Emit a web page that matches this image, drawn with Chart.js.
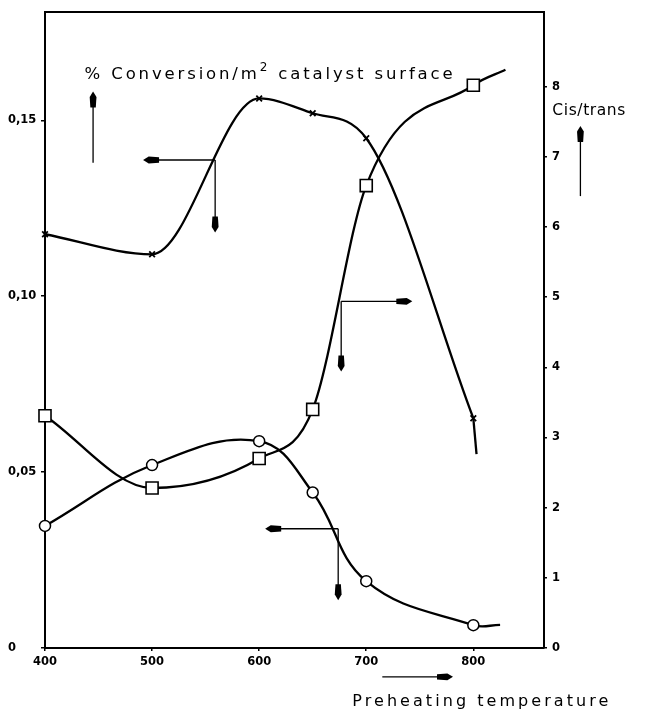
<!DOCTYPE html>
<html>
<head>
<meta charset="utf-8">
<script src="https://cdn.jsdelivr.net/npm/chart.js@4/dist/chart.umd.min.js"></script>
<style>
html,body{margin:0;padding:0;background:#fff;}
#wrap{width:653px;height:711px;position:relative;}
</style>
</head>
<body>
<div id="wrap"><canvas id="c" width="653" height="711"></canvas></div>
<script>
// ---- data ----
const xTickLabels = [400, 500, 600, 700, 800];
const leftTicks = [0, 0.05, 0.10, 0.15];
const rightTicks = [0, 1, 2, 3, 4, 5, 6, 7, 8];

// crosses: % conversion / m2 catalyst surface (left axis)
const crossX = [400, 500, 600, 650, 700, 800];
const crossY = [0.1176, 0.1119, 0.1562, 0.1520, 0.1449, 0.0653];
// unmarked tail of the crosses curve below the 800 point
const crossTailX = [800, 803];
const crossTailY = [0.0653, 0.0551];
// circles: % conversion / m2 catalyst surface (left axis)
const circX = [400, 500, 600, 650, 700, 800, 825];
const circY = [0.0347, 0.0520, 0.0588, 0.0442, 0.0190, 0.0065, 0.0066];
const circMarked = [1, 1, 1, 1, 1, 1, 0];
// squares: cis/trans ratio (right axis)
const sqX = [400, 500, 600, 650, 700, 800, 830];
const sqY = [3.31, 2.28, 2.70, 3.40, 6.59, 8.02, 8.24];
const sqMarked = [1, 1, 1, 1, 1, 1, 0];

// axis ranges
const xMin = 400, xMax = 866;
const leftMax = 0.1808, rightMax = 9.065;

// annotation arrows in data coordinates: [xFrom, yFrom, xTo, yTo, yAxis]
const arrows = [
  [558.9, 0.1387, 491.6, 0.1387, 'y'],
  [558.9, 0.1387, 558.9, 0.1181, 'y'],
  [676.6, 4.94, 743.0, 4.94, 'y1'],
  [676.6, 4.94, 676.6, 3.94, 'y1'],
  [673.8, 0.0339, 605.6, 0.0339, 'y'],
  [673.8, 0.0339, 673.8, 0.0136, 'y'],
  [444.9, 0.1379, 444.9, 0.1582, 'y'],
  [900.0, 6.44, 900.0, 7.44, 'y1'],
  [715.0, -0.0082, 781.0, -0.0082, 'y']
];

function zip(xs, ys){ return xs.map((x,i)=>({x:x, y:ys[i]})); }

const FONT = '"DejaVu Sans", sans-serif';

const whiteBg = {
  id:'whiteBg',
  beforeDraw(chart){
    const ctx = chart.ctx;
    ctx.save(); ctx.fillStyle = '#fff';
    ctx.fillRect(0,0,chart.width,chart.height); ctx.restore();
  }
};

function drawArrow(ctx, x0, y0, x1, y1){
  const dx = x1-x0, dy = y1-y0;
  const len = Math.hypot(dx,dy);
  const ux = dx/len, uy = dy/len;
  const px = -uy, py = ux;
  const headL = 16, hw = 3.4;
  ctx.beginPath();
  ctx.moveTo(x0,y0);
  ctx.lineTo(x1 - ux*headL*0.5, y1 - uy*headL*0.5);
  ctx.lineWidth = 1.3; ctx.strokeStyle = '#000'; ctx.stroke();
  const bx = x1 - ux*headL, by = y1 - uy*headL;
  ctx.beginPath();
  ctx.moveTo(x1, y1);
  ctx.lineTo(x1 - ux*headL*0.35 + px*hw, y1 - uy*headL*0.35 + py*hw);
  ctx.lineTo(bx + px*hw*0.8, by + py*hw*0.8);
  ctx.lineTo(bx - px*hw*0.8, by - py*hw*0.8);
  ctx.lineTo(x1 - ux*headL*0.35 - px*hw, y1 - uy*headL*0.35 - py*hw);
  ctx.closePath();
  ctx.fillStyle = '#000'; ctx.fill();
}

function fitText(ctx, str, x, yMid, width, size, weight){
  ctx.font = (weight||'normal') + ' ' + size + 'px ' + FONT;
  ctx.letterSpacing = '0px';
  const w = ctx.measureText(str).width;
  const sp = Math.max(0, (width - w) / (str.length - 1));
  ctx.letterSpacing = sp + 'px';
  ctx.textBaseline = 'middle'; ctx.textAlign = 'left';
  ctx.fillText(str, x, yMid);
  ctx.letterSpacing = '0px';
}

const deco = {
  id:'deco',
  afterDraw(chart){
    const ctx = chart.ctx;
    const sx = chart.scales.x, yl = chart.scales.y, yr = chart.scales.y1;
    const a = chart.chartArea;
    ctx.save();
    // top frame line
    ctx.beginPath(); ctx.moveTo(a.left, a.top); ctx.lineTo(a.right, a.top);
    ctx.lineWidth = 2; ctx.strokeStyle = '#000'; ctx.stroke();
    // arrows
    arrows.forEach(ar => {
      const ys = ar[4] === 'y1' ? yr : yl;
      drawArrow(ctx, sx.getPixelForValue(ar[0]), ys.getPixelForValue(ar[1]),
                     sx.getPixelForValue(ar[2]), ys.getPixelForValue(ar[3]));
    });
    ctx.fillStyle = '#000';
    // title text with superscript, spread to the reference width
    const tx = sx.getPixelForValue(437), ty = yl.getPixelForValue(0.1630);
    const p1 = '% Conversion/m', p3 = ' catalyst surface';
    const bigSize = 16.5, supSize = 12;
    ctx.letterSpacing = '0px';
    ctx.font = bigSize + 'px ' + FONT;
    const w1 = ctx.measureText(p1).width, w3 = ctx.measureText(p3).width;
    ctx.font = supSize + 'px ' + FONT;
    const w2 = ctx.measureText('2').width;
    const nChars = p1.length + 1 + p3.length;
    const sp = (368 - (w1 + w2 + w3)) / (nChars - 1);
    ctx.letterSpacing = sp + 'px';
    ctx.textBaseline = 'middle'; ctx.textAlign = 'left';
    ctx.font = bigSize + 'px ' + FONT;
    ctx.fillText(p1, tx, ty);
    let cx = tx + ctx.measureText(p1).width;
    ctx.font = supSize + 'px ' + FONT;
    ctx.fillText('2', cx, ty - 7);
    cx += ctx.measureText('2').width;
    ctx.font = bigSize + 'px ' + FONT;
    ctx.fillText(p3, cx, ty);
    ctx.letterSpacing = '0px';
    // right axis title
    fitText(ctx, 'Cis/trans', sx.getPixelForValue(873.8), yr.getPixelForValue(7.66), 73, 15.5);
    // x axis title
    fitText(ctx, 'Preheating temperature', sx.getPixelForValue(687), yl.getPixelForValue(-0.01525), 256, 16);
    ctx.restore();
  }
};

const ctx = document.getElementById('c').getContext('2d');
new Chart(ctx, {
  type:'line',
  data:{
    datasets:[
      {
        label:'conversion (x)', data: zip(crossX, crossY), yAxisID:'y',
        borderColor:'#000', borderWidth:2.3, cubicInterpolationMode:'monotone', fill:false, clip:false,
        pointStyle:'crossRot', pointRadius:4,
        pointBorderColor:'#000', pointBorderWidth:1.8, pointBackgroundColor:'#000'
      },
      {
        label:'conversion (x) tail', data: zip(crossTailX, crossTailY), yAxisID:'y',
        borderColor:'#000', borderWidth:2.3, tension:0, fill:false, clip:false, pointRadius:0
      },
      {
        label:'conversion (o)', data: zip(circX, circY), yAxisID:'y',
        borderColor:'#000', borderWidth:2.3, tension:0.4, fill:false, clip:false,
        pointStyle:'circle', pointRadius: circMarked.map(m=>m?5.5:0),
        pointBorderColor:'#000', pointBorderWidth:1.5, pointBackgroundColor:'#fff'
      },
      {
        label:'cis/trans', data: zip(sqX, sqY), yAxisID:'y1',
        borderColor:'#000', borderWidth:2.3, cubicInterpolationMode:'monotone', fill:false, clip:false,
        pointStyle:'rect', pointRadius: sqMarked.map(m=>m?8.5:0),
        pointBorderColor:'#000', pointBorderWidth:1.6, pointBackgroundColor:'#fff'
      }
    ]
  },
  options:{
    responsive:false, animation:false,
    layout:{padding:{left:8, top:8, right:0, bottom:0}},
    plugins:{legend:{display:false}, tooltip:{enabled:false}},
    scales:{
      x:{
        type:'linear', position:'bottom', min:xMin, max:xMax,
        afterBuildTicks(ax){ ax.ticks = xTickLabels.map(v=>({value:v})); },
        afterFit(ax){ ax.height = 63; },
        grid:{display:true, drawOnChartArea:false, drawTicks:true, tickLength:3, color:'#000', lineWidth:1.5},
        border:{display:true, color:'#000', width:2},
        ticks:{color:'#000', font:{family:FONT, size:11.5, weight:'bold'}, padding:4, maxRotation:0,
               callback:(v)=>String(v)}
      },
      y:{
        type:'linear', position:'left', min:0, max:leftMax,
        afterBuildTicks(ax){ ax.ticks = leftTicks.map(v=>({value:v})); },
        afterFit(ax){ ax.width = 37; },
        grid:{display:true, drawOnChartArea:false, drawTicks:true, tickLength:4, color:'#000', lineWidth:1.5},
        border:{display:true, color:'#000', width:2},
        ticks:{color:'#000', font:{family:FONT, size:11.5, weight:'bold'}, crossAlign:'far', padding:4,
               callback:(v)=> v===0 ? '0' : v.toFixed(2).replace('.', ',')}
      },
      y1:{
        type:'linear', position:'right', min:0, max:rightMax,
        afterBuildTicks(ax){ ax.ticks = rightTicks.map(v=>({value:v})); },
        afterFit(ax){ ax.width = 109; },
        grid:{display:true, drawOnChartArea:false, drawTicks:true, tickLength:3, color:'#000', lineWidth:1.5},
        border:{display:true, color:'#000', width:2},
        ticks:{color:'#000', font:{family:FONT, size:11.5, weight:'bold'}, padding:5,
               callback:(v)=>String(v)}
      }
    }
  },
  plugins:[whiteBg, deco]
});
</script>
</body>
</html>
